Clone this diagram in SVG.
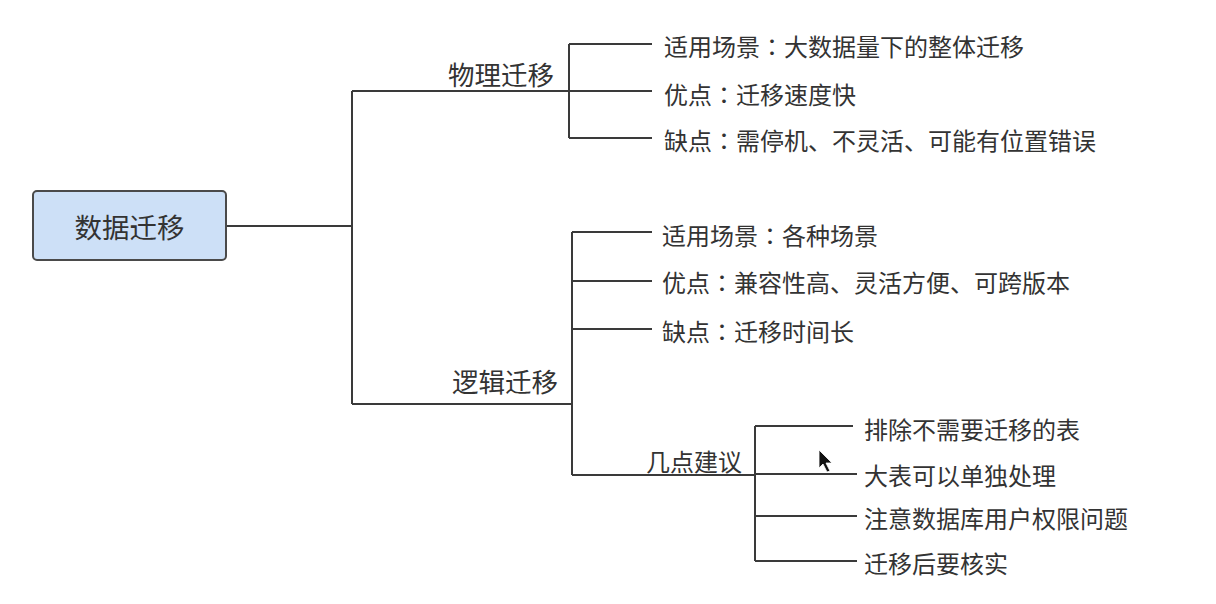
<svg xmlns="http://www.w3.org/2000/svg" width="1216" height="604" viewBox="0 0 1216 604">
<style>
.ln{stroke:#3a3a3a;stroke-width:2;fill:none}
text{font-family:"Noto Sans CJK SC","Noto Sans",sans-serif;fill:#333;dominant-baseline:central}
.leaf{font-size:24px}
.mid{font-size:26.5px}
.root{font-size:27.5px}
.c{font-family:"Noto Sans CJK TC","Noto Sans CJK SC",sans-serif}
</style>
<rect width="1216" height="604" fill="#fff"/>
<g id="connectors">
<path class="ln" d="M226 226H352M352 91V404M352 91H569M352 404H572"/>
<path class="ln" d="M569 44V138M569 44H652M569 91H652M569 138H652"/>
<path class="ln" d="M572 232V475M572 232H652M572 281H652M572 329H652M572 475H755"/>
<path class="ln" d="M755 426V561M755 426H853M755 474H857M755 516H857M755 561H857"/>
</g>
<g id="root">
<rect x="33" y="191" width="193" height="69" rx="4" fill="#cde0f7" stroke="#4a4a4a" stroke-width="2"/>
<text class="root" x="129.5" y="226" text-anchor="middle">数据迁移</text>
</g>
<g id="physical"><text class="mid" x="554" y="73" text-anchor="end">物理迁移</text></g>
<g id="p1"><text class="leaf" x="664" y="45">适用场景<tspan class="c">：</tspan>大数据量下的整体迁移</text></g>
<g id="p2"><text class="leaf" x="664" y="93">优点<tspan class="c">：</tspan>迁移速度快</text></g>
<g id="p3"><text class="leaf" x="664" y="139">缺点<tspan class="c">：</tspan>需停机、不灵活、可能有位置错误</text></g>
<g id="logical"><text class="mid" x="558" y="380" text-anchor="end">逻辑迁移</text></g>
<g id="l1"><text class="leaf" x="662" y="234">适用场景<tspan class="c">：</tspan>各种场景</text></g>
<g id="l2"><text class="leaf" x="662" y="281">优点<tspan class="c">：</tspan>兼容性高、灵活方便、可跨版本</text></g>
<g id="l3"><text class="leaf" x="662" y="330">缺点<tspan class="c">：</tspan>迁移时间长</text></g>
<g id="advice"><text class="leaf" x="742" y="460" text-anchor="end">几点建议</text></g>
<g id="a1"><text class="leaf" x="864" y="428">排除不需要迁移的表</text></g>
<g id="a2"><text class="leaf" x="864" y="474">大表可以单独处理</text></g>
<g id="a3"><text class="leaf" x="864" y="517">注意数据库用户权限问题</text></g>
<g id="a4"><text class="leaf" x="864" y="562">迁移后要核实</text></g>
<path id="cursor" d="M819 450V468L823 464L827 472L830 471L826 463L832 463Z" fill="#111" stroke="#fff" stroke-width="0.8"/>
</svg>
